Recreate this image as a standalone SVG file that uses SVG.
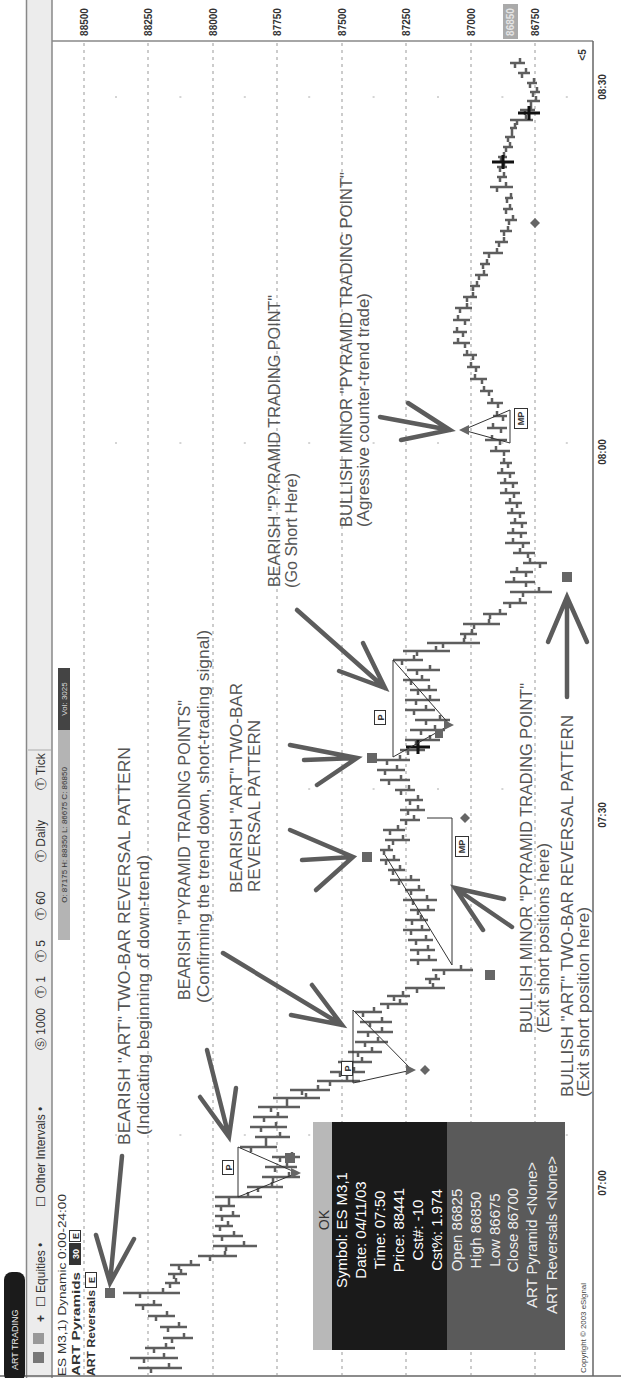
<svg xmlns="http://www.w3.org/2000/svg" width="621" height="1378" viewBox="0 0 621 1378">
<style>
.ann{font-family:"Liberation Sans",Arial,sans-serif;font-size:16px;fill:#555}
.bars{fill:none;stroke:#5e5e5e;stroke-width:2.5}
.arrow{fill:none;stroke:#5c5c5c;stroke-width:4.5;stroke-linecap:round}
.grid{stroke:#999;stroke-width:1;stroke-dasharray:3 4}
.hgrid{stroke:#aaa;stroke-width:1;stroke-dasharray:2 62.4}
.thin{fill:none;stroke:#333;stroke-width:1}
.mk{fill:#666}
.ax{font-family:"Liberation Sans",Arial,sans-serif;font-size:10px;font-weight:bold;fill:#333}
.tb{font-family:"Liberation Sans","DejaVu Sans",sans-serif;font-size:12px;fill:#333}
.hd{font-family:"Liberation Sans",Arial,sans-serif;font-size:11px;font-weight:bold;fill:#333}
.tip{font-family:"Liberation Sans",Arial,sans-serif;font-size:15px;fill:#fff;text-anchor:middle}
.tip2{font-family:"Liberation Sans",Arial,sans-serif;font-size:15px;fill:#eee;text-anchor:middle}
.bx{fill:#fff;stroke:#333;stroke-width:1}
.bxt{font-family:"Liberation Sans",Arial,sans-serif;font-size:9px;font-weight:bold;fill:#333;text-anchor:middle}
.cross{fill:none;stroke:#111;stroke-width:3}
</style>
<rect width="621" height="1378" fill="#fff"/>
<g id="frame">
<rect x="27" y="0" width="25" height="1378" fill="#ececec"/>
<line x1="26.5" y1="0" x2="26.5" y2="1378" stroke="#888" stroke-width="1.5"/>
<line x1="52" y1="0" x2="52" y2="1378" stroke="#888" stroke-width="1.5"/>
<line x1="52" y1="41" x2="593" y2="41" stroke="#888" stroke-width="1.5"/>
<line x1="593" y1="41" x2="593" y2="1376" stroke="#666" stroke-width="1.5"/>
<line x1="0" y1="1376" x2="621" y2="1376" stroke="#666" stroke-width="1.5"/>
<line x1="28" y1="750" x2="51" y2="750" stroke="#ccc" stroke-width="2"/>
</g>
<g id="tab">
<rect x="4" y="1272" width="21" height="110" rx="8" fill="#1b1b1b"/>
<text x="18" y="1370" transform="rotate(-90 18 1370)" font-family="Liberation Sans, Arial, sans-serif" font-size="9" fill="#eee">ART TRADING</text>
</g>
<g id="toolbar">
<rect x="33" y="1352" width="11" height="11" fill="#777"/>
<rect x="33" y="1333" width="11" height="11" fill="#999"/>
<text x="45" y="1322" transform="rotate(-90 45 1322)" class="tb" font-weight="bold">+</text>
<text x="45" y="1307" transform="rotate(-90 45 1307)" class="tb">☐ Equities •</text>
<text x="45" y="1207" transform="rotate(-90 45 1207)" class="tb">☐ Other Intervals •</text>
<text x="45" y="1050" transform="rotate(-90 45 1050)" class="tb">Ⓢ 1000</text>
<text x="45" y="998" transform="rotate(-90 45 998)" class="tb">Ⓣ 1</text>
<text x="45" y="962" transform="rotate(-90 45 962)" class="tb">Ⓣ 5</text>
<text x="45" y="920" transform="rotate(-90 45 920)" class="tb">Ⓣ 60</text>
<text x="45" y="862" transform="rotate(-90 45 862)" class="tb">Ⓣ Daily</text>
<text x="45" y="790" transform="rotate(-90 45 790)" class="tb">Ⓣ Tick</text>
</g>
<g id="header">
<text x="66" y="1376" transform="rotate(-90 66 1376)" class="hd" style="font-weight:normal" textLength="182" lengthAdjust="spacingAndGlyphs">ES M3,1) Dynamic 0:00-24:00</text>
<text x="80" y="1376" transform="rotate(-90 80 1376)" class="hd" textLength="104" lengthAdjust="spacingAndGlyphs">ART Pyramids</text>
<rect x="69" y="1243" width="12" height="22" fill="#333"/>
<text x="79" y="1254" transform="rotate(-90 79 1254)" class="bxt" style="fill:#fff">30</text>
<rect x="69.5" y="1230.5" width="11" height="11" class="bx"/>
<text x="79" y="1236" transform="rotate(-90 79 1236)" class="bxt">E</text>
<text x="95" y="1376" transform="rotate(-90 95 1376)" class="hd" textLength="86" lengthAdjust="spacingAndGlyphs">ART Reversals</text>
<rect x="85.5" y="1272.5" width="11" height="15" class="bx"/>
<text x="95" y="1280" transform="rotate(-90 95 1280)" class="bxt">E</text>
<rect x="58" y="668" width="12" height="272" fill="#b4b4b4"/>
<rect x="58" y="668" width="12" height="62" fill="#444"/>
<text x="67" y="835" transform="rotate(-90 67 835)" font-family="Liberation Sans, Arial, sans-serif" font-size="8" fill="#333" text-anchor="middle">O: 87175   H: 88350   L: 86675   C: 86850</text>
<text x="67" y="699" transform="rotate(-90 67 699)" font-family="Liberation Sans, Arial, sans-serif" font-size="8" fill="#ddd" text-anchor="middle">Vol: 3025</text>
</g>
<g id="grid">
<line class="grid" x1="84" y1="43" x2="84" y2="1375"/>
<line class="grid" x1="148" y1="43" x2="148" y2="1375"/>
<line class="grid" x1="213" y1="43" x2="213" y2="1375"/>
<line class="grid" x1="277" y1="43" x2="277" y2="1375"/>
<line class="grid" x1="342" y1="43" x2="342" y2="1375"/>
<line class="grid" x1="406" y1="43" x2="406" y2="1375"/>
<line class="grid" x1="471" y1="43" x2="471" y2="1375"/>
<line class="grid" x1="535" y1="43" x2="535" y2="1375"/>
<line class="hgrid" x1="115" y1="97" x2="592" y2="97"/>
<line class="hgrid" x1="115" y1="443" x2="592" y2="443"/>
<line class="hgrid" x1="115" y1="789" x2="592" y2="789"/>
<line class="hgrid" x1="115" y1="1135" x2="592" y2="1135"/>
</g>
<g id="price-axis">
<text x="88" y="22" transform="rotate(-90 88 22)" class="ax" text-anchor="middle">88500</text>
<text x="152" y="22" transform="rotate(-90 152 22)" class="ax" text-anchor="middle">88250</text>
<text x="217" y="22" transform="rotate(-90 217 22)" class="ax" text-anchor="middle">88000</text>
<text x="281" y="22" transform="rotate(-90 281 22)" class="ax" text-anchor="middle">87750</text>
<text x="346" y="22" transform="rotate(-90 346 22)" class="ax" text-anchor="middle">87500</text>
<text x="410" y="22" transform="rotate(-90 410 22)" class="ax" text-anchor="middle">87250</text>
<text x="475" y="22" transform="rotate(-90 475 22)" class="ax" text-anchor="middle">87000</text>
<rect x="503" y="4" width="15" height="35" fill="#aaa"/>
<text x="514" y="22" transform="rotate(-90 514 22)" class="ax" text-anchor="middle" style="fill:#e4e4e4">86850</text>
<text x="539" y="22" transform="rotate(-90 539 22)" class="ax" text-anchor="middle">86750</text>
<text x="586" y="55" transform="rotate(-90 586 55)" class="ax" text-anchor="middle" font-size="9">&lt;5</text>
</g>
<g id="time-axis">
<text x="606" y="87" transform="rotate(-90 606 87)" class="ax" text-anchor="middle">08:30</text>
<text x="606" y="452" transform="rotate(-90 606 452)" class="ax" text-anchor="middle">08:00</text>
<text x="606" y="815" transform="rotate(-90 606 815)" class="ax" text-anchor="middle">07:30</text>
<text x="606" y="1183" transform="rotate(-90 606 1183)" class="ax" text-anchor="middle">07:00</text>
<text x="586" y="1373" transform="rotate(-90 586 1373)" font-family="Liberation Sans, Arial, sans-serif" font-size="7" fill="#444" textLength="90" lengthAdjust="spacingAndGlyphs">Copyright © 2003 eSignal</text>
</g>
<g id="price-bars">
<path class="bars" d="M138 1368H182M151 1368v5M169 1368v-5M130 1358H178M144 1358v5M164 1358v-5M145 1348H175M154 1348v5M166 1348v-5M163 1338H193M172 1338v5M184 1338v-5M160 1327H187M168 1327v5M179 1327v-5M148 1316H175M156 1316v5M167 1316v-5M135 1305H162M143 1305v5M154 1305v-5M123 1293H180M140 1293v5M163 1293v-5M165 1283H180M170 1283v5M176 1283v-5M168 1274H187M174 1274v5M181 1274v-5M170 1265H200M179 1265v5M191 1265v-5M198 1256H237M210 1256v5M225 1256v-5M213 1246H257M226 1246v5M244 1246v-5M213 1236H243M222 1236v5M234 1236v-5M215 1226H233M220 1226v5M228 1226v-5M215 1216H240M222 1216v5M233 1216v-5M215 1206H235M221 1206v5M229 1206v-5M215 1197H262M229 1197v5M248 1197v-5M247 1187H283M258 1187v5M272 1187v-5M262 1177H300M273 1177v5M289 1177v-5M265 1167H297M275 1167v5M287 1167v-5M272 1157H300M280 1157v5M292 1157v-5M240 1147H277M251 1147v5M266 1147v-5M255 1137H290M266 1137v5M280 1137v-5M250 1127H287M261 1127v5M276 1127v-5M253 1117H288M264 1117v5M278 1117v-5M258 1107H300M271 1107v5M287 1107v-5M273 1098H320M287 1098v5M306 1098v-5M290 1090H330M302 1090v5M318 1090v-5M317 1081H360M330 1081v5M347 1081v-5M330 1072H365M340 1072v5M354 1072v-5M338 1062H372M348 1062v5M362 1062v-5M348 1052H382M358 1052v5M372 1052v-5M355 1042H388M365 1042v5M378 1042v-5M357 1032H393M368 1032v5M382 1032v-5M360 1022H392M370 1022v5M382 1022v-5M355 1012H382M363 1012v5M374 1012v-5M380 1004H408M388 1004v5M400 1004v-5M387 996H410M394 996v5M403 996v-5M405 988H445M417 988v5M433 988v-5M425 979H440M430 979v5M436 979v-5M432 970H473M444 970v5M461 970v-5M410 960H437M418 960v5M429 960v-5M410 950H435M418 950v5M428 950v-5M408 940H433M416 940v5M426 940v-5M403 930H430M411 930v5M422 930v-5M405 920H428M412 920v5M421 920v-5M410 910H435M418 910v5M428 910v-5M403 900H437M413 900v5M427 900v-5M405 890H425M411 890v5M419 890v-5M390 880H420M399 880v5M411 880v-5M388 870H405M393 870v5M400 870v-5M380 860H400M386 860v5M394 860v-5M380 850H393M384 850v5M389 850v-5M385 840H410M393 840v5M403 840v-5M383 830H405M390 830v5M398 830v-5M400 820H420M406 820v5M414 820v-5M400 810H425M408 810v5M418 810v-5M405 800H423M410 800v5M418 800v-5M395 790H415M401 790v5M409 790v-5M380 780H410M389 780v5M401 780v-5M377 770H405M385 770v5M397 770v-5M377 760H410M387 760v5M400 760v-5M400 750H425M408 750v5M418 750v-5M405 740H440M416 740v5M430 740v-5M410 730H445M421 730v5M435 730v-5M415 720H450M426 720v5M440 720v-5M405 710H435M414 710v5M426 710v-5M405 700H440M416 700v5M430 700v-5M410 690H437M418 690v5M429 690v-5M403 680H430M411 680v5M422 680v-5M407 670H440M417 670v5M430 670v-5M393 660H423M402 660v5M414 660v-5M403 651H450M417 651v5M436 651v-5M427 643H480M443 643v5M464 643v-5M460 634H477M465 634v5M472 634v-5M463 624H500M474 624v5M489 624v-5M483 614H507M490 614v5M500 614v-5M503 603H527M510 603v5M520 603v-5M510 592H552M523 592v5M539 592v-5M505 582H535M526 582v5M514 582v-5M510 572H533M526 572v5M517 572v-5M523 563H547M540 563v5M530 563v-5M513 553H535M528 553v5M520 553v-5M505 543H530M523 543v5M513 543v-5M507 533H527M521 533v5M513 533v-5M510 523H527M522 523v5M515 523v-5M507 513H525M520 513v5M512 513v-5M505 503H522M517 503v5M510 503v-5M500 493H520M514 493v5M506 493v-5M500 483H518M513 483v5M505 483v-5M497 473H515M510 473v5M502 473v-5M500 463H512M508 463v5M504 463v-5M490 451H510M504 451v5M496 451v-5M485 440H507M500 440v5M492 440v-5M487 428H507M501 428v5M493 428v-5M493 416H507M503 416v5M497 416v-5M487 403H503M498 403v5M492 403v-5M480 391H493M489 391v5M484 391v-5M470 379H487M482 379v5M475 379v-5M467 367H480M476 367v5M471 367v-5M463 355H477M473 355v5M467 355v-5M453 343H470M465 343v5M458 343v-5M453 332H467M463 332v5M457 332v-5M453 320H470M465 320v5M458 320v-5M455 308H472M460 308v5M467 308v-5M463 297H477M467 297v5M473 297v-5M470 286H480M473 286v5M477 286v-5M475 275H488M479 275v5M484 275v-5M480 264H490M483 264v5M487 264v-5M483 253H503M489 253v5M497 253v-5M495 242H508M499 242v5M504 242v-5M500 231H512M504 231v5M508 231v-5M505 220H517M509 220v5M513 220v-5M503 209H513M506 209v5M510 209v-5M505 198H513M507 198v5M511 198v-5M490 187H513M497 187v5M506 187v-5M497 177H507M500 177v5M504 177v-5M497 167H507M500 167v5M504 167v-5M498 157H507M501 157v5M504 157v-5M503 147H513M506 147v5M510 147v-5M505 137H515M508 137v5M512 137v-5M510 128H517M512 128v5M515 128v-5M510 120H533M517 120v5M526 120v-5M520 110H535M525 110v5M531 110v-5M527 101H540M531 101v5M536 101v-5M530 92H540M533 92v5M537 92v-5M527 83H537M530 83v5M534 83v-5M518 73H530M522 73v5M526 73v-5M510 63H525M515 63v5M520 63v-5"/>
<path class="cross" d="M406 747H430M418 740V754M492 162H514M503 155V169M518 113H540M529 106V120"/>
</g>
<g id="pyramids">
<path class="thin" d="M238 1147V1197M238 1147L297 1173L238 1197"/>
<path class="thin" d="M353 1010V1083M353 1010L412 1070L353 1083"/>
<path class="thin" d="M393 660V757M393 660L450 725L393 757"/>
<path class="thin" d="M452 818V965L385 855M427 818H452"/>
<path class="thin" d="M510 410V443L463 430L510 410"/>
<polygon class="mk" points="291,1168 301,1173 291,1178"/>
<polygon class="mk" points="406,1065 416,1070 406,1075"/>
<polygon class="mk" points="444,720 454,725 444,730"/>
<polygon class="mk" points="469,425 459,430 469,435"/>
<rect x="222.5" y="1160.5" width="11" height="14" class="bx"/>
<text x="232" y="1167.5" transform="rotate(-90 232 1167.5)" class="bxt">P</text>
<rect x="341.5" y="1061.5" width="11" height="14" class="bx"/>
<text x="351" y="1068.5" transform="rotate(-90 351 1068.5)" class="bxt">P</text>
<rect x="374.5" y="710.5" width="11" height="14" class="bx"/>
<text x="384" y="717.5" transform="rotate(-90 384 717.5)" class="bxt">P</text>
<rect x="455.5" y="836.5" width="13" height="20" class="bx"/>
<text x="465" y="846.5" transform="rotate(-90 465 846.5)" class="bxt">MP</text>
<rect x="514.5" y="408.5" width="13" height="20" class="bx"/>
<text x="524" y="418.5" transform="rotate(-90 524 418.5)" class="bxt">MP</text>
</g>
<g id="markers">
<rect class="mk" x="105" y="1288" width="10" height="10"/>
<rect class="mk" x="285" y="1153" width="10" height="10"/>
<rect class="mk" x="485" y="970" width="10" height="10"/>
<rect class="mk" x="362" y="852" width="10" height="10"/>
<rect class="mk" x="367" y="753" width="10" height="10"/>
<rect class="mk" x="435" y="729" width="8" height="9"/>
<rect class="mk" x="562" y="572" width="10" height="10"/>
<polygon class="mk" points="425,1065 430,1070 425,1075 420,1070"/>
<polygon class="mk" points="465,813 470,818 465,823 460,818"/>
<polygon class="mk" points="535,218 540,223 535,228 530,223"/>
</g>
<g id="connectors">
<path class="arrow" d="M122 1156L110 1283M96 1235L110 1283L134 1239"/>
<path class="arrow" d="M207 1050L229 1137M200 1097L229 1137L236 1088"/>
<path class="arrow" d="M223 953L342 1025M291 1015L342 1025L312 985"/>
<path class="arrow" d="M302 860L353 857M290 830L353 857L316 890"/>
<path class="arrow" d="M304 760L357 758M290 745L357 758L317 785"/>
<path class="arrow" d="M297 610L385 688M339 671L385 688L363 643"/>
<path class="arrow" d="M512 927L455 888M504 899L455 888L483 930"/>
<path class="arrow" d="M567 697L567 597M548 642L567 597L587 642"/>
<path class="arrow" d="M380 417L450 430M408 403L450 430L401 440"/>
</g>
<g id="annotations">
<text class="ann" x="130" y="1145" transform="rotate(-90 130 1145)" textLength="398" lengthAdjust="spacingAndGlyphs">BEARISH "ART" TWO-BAR REVERSAL PATTERN</text>
<text class="ann" x="149" y="1135" transform="rotate(-90 149 1135)" textLength="280" lengthAdjust="spacingAndGlyphs">(Indicating beginning of down-trend)</text>
<text class="ann" x="190" y="1000" transform="rotate(-90 190 1000)" textLength="300" lengthAdjust="spacingAndGlyphs">BEARISH "PYRAMID TRADING POINTS"</text>
<text class="ann" x="209" y="1003" transform="rotate(-90 209 1003)" textLength="373" lengthAdjust="spacingAndGlyphs">(Confirming the trend down, short-trading signal)</text>
<text class="ann" x="242" y="893" transform="rotate(-90 242 893)" textLength="210" lengthAdjust="spacingAndGlyphs">BEARISH "ART" TWO-BAR</text>
<text class="ann" x="260" y="892" transform="rotate(-90 260 892)" textLength="172" lengthAdjust="spacingAndGlyphs">REVERSAL PATTERN</text>
<text class="ann" x="280" y="587" transform="rotate(-90 280 587)" textLength="292" lengthAdjust="spacingAndGlyphs">BEARISH "PYRAMID TRADING POINT"</text>
<text class="ann" x="297" y="588" transform="rotate(-90 297 588)" textLength="115" lengthAdjust="spacingAndGlyphs">(Go Short Here)</text>
<text class="ann" x="352" y="527" transform="rotate(-90 352 527)" textLength="355" lengthAdjust="spacingAndGlyphs">BULLISH MINOR "PYRAMID TRADING POINT"</text>
<text class="ann" x="369" y="527" transform="rotate(-90 369 527)" textLength="234" lengthAdjust="spacingAndGlyphs">(Agressive counter-trend trade)</text>
<text class="ann" x="532" y="1033" transform="rotate(-90 532 1033)" textLength="350" lengthAdjust="spacingAndGlyphs">BULLISH MINOR "PYRAMID TRADING POINT"</text>
<text class="ann" x="549" y="1033" transform="rotate(-90 549 1033)" textLength="190" lengthAdjust="spacingAndGlyphs">(Exit short positions here)</text>
<text class="ann" x="573" y="1097" transform="rotate(-90 573 1097)" textLength="382" lengthAdjust="spacingAndGlyphs">BULLISH "ART" TWO-BAR REVERSAL PATTERN</text>
<text class="ann" x="589" y="1097" transform="rotate(-90 589 1097)" textLength="190" lengthAdjust="spacingAndGlyphs">(Exit short position here)</text>
</g>
<g id="data-window">
<rect x="313" y="1122" width="19" height="228" fill="#b8b8b8"/>
<rect x="332" y="1122" width="115" height="228" fill="#1a1a1a"/>
<rect x="447" y="1122" width="118" height="228" fill="#5a5a5a"/>
<text x="329" y="1220" transform="rotate(-90 329 1220)" font-family="Liberation Sans, Arial, sans-serif" font-size="14" fill="#333" text-anchor="middle">OK</text>
<text class="tip" x="347" y="1230" transform="rotate(-90 347 1230)">Symbol: ES M3,1</text>
<text class="tip" x="366" y="1230" transform="rotate(-90 366 1230)">Date: 04/11/03</text>
<text class="tip" x="385" y="1230" transform="rotate(-90 385 1230)">Time: 07:50</text>
<text class="tip" x="404" y="1230" transform="rotate(-90 404 1230)">Price: 88441</text>
<text class="tip" x="423" y="1230" transform="rotate(-90 423 1230)">Cst#: -10</text>
<text class="tip" x="442" y="1230" transform="rotate(-90 442 1230)">Cst%: 1.974</text>
<text class="tip2" x="462" y="1230" transform="rotate(-90 462 1230)">Open 86825</text>
<text class="tip2" x="481" y="1230" transform="rotate(-90 481 1230)">High 86850</text>
<text class="tip2" x="500" y="1230" transform="rotate(-90 500 1230)">Low 86675</text>
<text class="tip2" x="518" y="1230" transform="rotate(-90 518 1230)">Close 86700</text>
<text class="tip2" x="537" y="1235" transform="rotate(-90 537 1235)">ART Pyramid &lt;None&gt;</text>
<text class="tip2" x="557" y="1235" transform="rotate(-90 557 1235)">ART Reversals &lt;None&gt;</text>
</g>
</svg>
